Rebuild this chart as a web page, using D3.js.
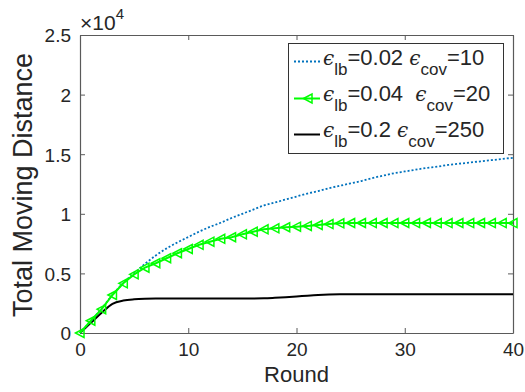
<!DOCTYPE html>
<html>
<head>
<meta charset="utf-8">
<script src="https://cdn.jsdelivr.net/npm/d3@7"></script>
<style>
  body { margin: 0; background: #fff; }
  text { font-family: "Liberation Sans", Arial, sans-serif; fill: #262626; }
</style>
</head>
<body>
<svg id="chart" width="525" height="392"></svg>
<script>
// rounds 0..40
const rounds = d3.range(0, 41);

// eps_lb=0.02 eps_cov=10 (blue dotted)
const seriesA = [0, 1000, 2050, 3200, 4200, 5000, 5800, 6500, 7100, 7600, 8050,
  8500, 8900, 9250, 9650, 10000, 10350, 10700, 10950, 11200, 11450,
  11700, 11900, 12150, 12350, 12550, 12750, 13000, 13200, 13400, 13550,
  13700, 13850, 13950, 14100, 14200, 14300, 14400, 14500, 14600, 14700];

// eps_lb=0.04 eps_cov=20 (green, triangles)
const seriesB = [0, 1030, 2000, 3190, 4170, 4920, 5480, 5850, 6270, 6690, 7050,
  7400, 7660, 7900, 8030, 8280, 8500, 8700, 8780, 8870, 8920,
  8980, 9060, 9140, 9200, 9230, 9230, 9220, 9230, 9220, 9230,
  9220, 9230, 9220, 9220, 9230, 9220, 9230, 9220, 9220, 9220];

// eps_lb=0.2 eps_cov=250 (black)
const seriesC = [0, 850, 1700, 2450, 2720, 2830, 2880, 2900, 2900, 2900, 2900,
  2900, 2900, 2900, 2900, 2900, 2900, 2910, 2950, 3000, 3060,
  3130, 3190, 3230, 3250, 3250, 3250, 3250, 3250, 3250, 3250,
  3250, 3250, 3250, 3250, 3250, 3250, 3250, 3250, 3250, 3250];

const xTicks = [0, 10, 20, 30, 40];
const yTicks = [0, 5000, 10000, 15000, 20000, 25000];
const yTickLabels = ["0", "0.5", "1", "1.5", "2", "2.5"];

const svg = d3.select("#chart");
const L = 80, R = 513, T = 35, B = 333;

const x = d3.scaleLinear().domain([0, 40]).range([L, R]);
const y = d3.scaleLinear().domain([0, 25000]).range([B, T]);

const axisColor = "#5a5a5a";

// axes with inward ticks
const gx = svg.append("g").attr("transform", `translate(0,${B})`)
  .call(d3.axisBottom(x).tickValues(xTicks).tickSizeInner(-5).tickSizeOuter(0).tickPadding(10));
const gxTop = svg.append("g").attr("transform", `translate(0,${T})`)
  .call(d3.axisTop(x).tickValues(xTicks).tickSizeInner(-5).tickSizeOuter(0).tickFormat(""));
const gy = svg.append("g").attr("transform", `translate(${L},0)`)
  .call(d3.axisLeft(y).tickValues(yTicks).tickSizeInner(-5).tickSizeOuter(0).tickPadding(9)
    .tickFormat((d, i) => yTickLabels[i]));
const gyRight = svg.append("g").attr("transform", `translate(${R},0)`)
  .call(d3.axisRight(y).tickValues(yTicks).tickSizeInner(-5).tickSizeOuter(0).tickFormat(""));

[gx, gxTop, gy, gyRight].forEach(g => {
  g.select(".domain").attr("stroke", axisColor).attr("stroke-width", 1.2);
  g.selectAll(".tick line").attr("stroke", axisColor);
  g.selectAll(".tick text").attr("font-size", 19).attr("fill", "#262626")
    .style("font-family", "Liberation Sans, Arial, sans-serif");
});
gy.selectAll(".tick text").attr("dy", "0.36em");

// exponent label
const expo = svg.append("text").attr("x", 80).attr("y", 30).attr("font-size", 21);
expo.append("tspan").text("×10");
expo.append("tspan").attr("dy", -11).attr("font-size", 15).text("4");

// axis titles
svg.append("text").attr("x", (L + R) / 2).attr("y", 382).attr("text-anchor", "middle")
  .attr("font-size", 22).text("Round");
svg.append("text").attr("transform", `translate(32,${(T + B) / 2 + 1}) rotate(-90)`)
  .attr("text-anchor", "middle").attr("font-size", 27).text("Total Moving Distance");

// lines
const line = d3.line().x((d, i) => x(rounds[i])).y(d => y(d)).curve(d3.curveMonotoneX);

svg.append("path").datum(seriesC).attr("d", line)
  .attr("fill", "none").attr("stroke", "#000").attr("stroke-width", 2);

svg.append("path").datum(seriesA).attr("d", line)
  .attr("fill", "none").attr("stroke", "#0072BD").attr("stroke-width", 1.8)
  .attr("stroke-dasharray", "2,2");

const lineStraight = d3.line().x((d, i) => x(rounds[i])).y(d => y(d));
svg.append("path").datum(seriesB).attr("d", lineStraight)
  .attr("fill", "none").attr("stroke", "#00ff00").attr("stroke-width", 2);

const tri = "M-4.5,0L4,-4.5L4,4.5Z";
svg.append("g").selectAll("path").data(seriesB).join("path")
  .attr("transform", (d, i) => `translate(${x(rounds[i])},${y(d)})`)
  .attr("d", tri).attr("fill", "none").attr("stroke", "#00ff00").attr("stroke-width", 1.5);

// legend
const lg = svg.append("g");
lg.append("rect").attr("x", 288.5).attr("y", 43.5).attr("width", 215).attr("height", 110)
  .attr("fill", "#fff").attr("stroke", "#333").attr("stroke-width", 1);

const legendRows = [
  { lb: "0.02", gap: " ", cov: "10", color: "#0072BD", dash: "2,2", marker: false, ly: 61.5, ty: 65 },
  { lb: "0.04", gap: "\u00a0\u00a0", cov: "20", color: "#00ff00", dash: null, marker: true, ly: 98.5, ty: 101 },
  { lb: "0.2", gap: " ", cov: "250", color: "#000", dash: null, marker: false, ly: 134.5, ty: 137 }
];

legendRows.forEach(r => {
  lg.append("line").attr("x1", 294).attr("x2", 320).attr("y1", r.ly).attr("y2", r.ly)
    .attr("stroke", r.color).attr("stroke-width", r.dash ? 1.8 : 2)
    .attr("stroke-dasharray", r.dash);
  if (r.marker) {
    lg.append("path").attr("transform", `translate(308,${r.ly})`).attr("d", tri)
      .attr("fill", "none").attr("stroke", r.color).attr("stroke-width", 1.5);
  }
  const t = lg.append("text").attr("x", 323).attr("y", r.ty).attr("font-size", 22)
    .attr("xml:space", "preserve");
  t.append("tspan").attr("font-family", "DejaVu Serif").attr("font-style", "italic").attr("font-size", 20).text("ϵ");
  t.append("tspan").attr("dy", 10).attr("font-size", 17).text("lb");
  t.append("tspan").attr("dy", -10).text("=" + r.lb + r.gap);
  t.append("tspan").attr("font-family", "DejaVu Serif").attr("font-style", "italic").attr("font-size", 20).text("ϵ");
  t.append("tspan").attr("dy", 10).attr("font-size", 17).text("cov");
  t.append("tspan").attr("dy", -10).text("=" + r.cov);
});
</script>
</body>
</html>
